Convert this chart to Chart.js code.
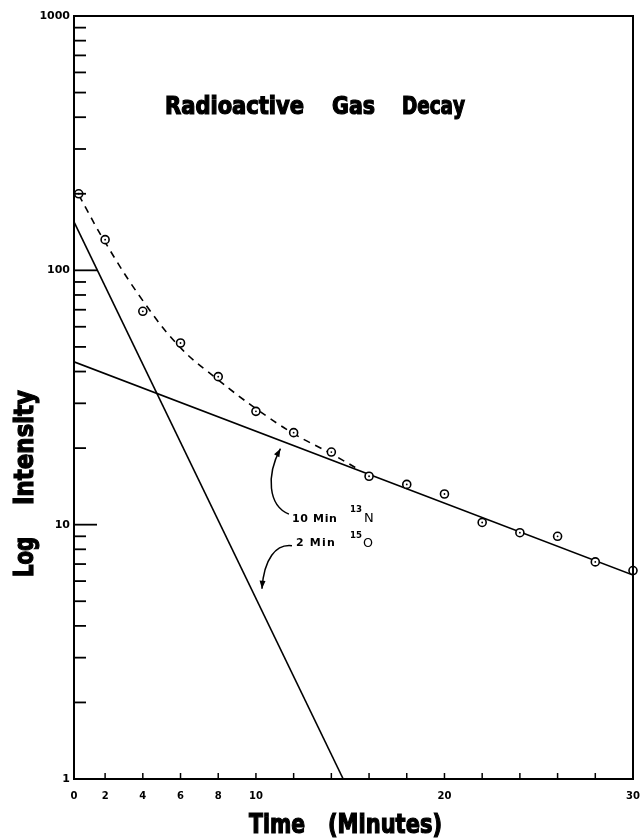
<!DOCTYPE html>
<html>
<head>
<meta charset="utf-8">
<script src="https://cdn.jsdelivr.net/npm/chart.js@4/dist/chart.umd.min.js"></script>
<style>
html,body{margin:0;padding:0;background:#fff;}
#wrap{width:641px;height:840px;position:relative;}
canvas{display:block;}
</style>
</head>
<body>
<div id="wrap"><canvas id="c" width="641" height="840"></canvas></div>
<script>
// ---------- data ----------
const measuredTimes  = [0.6, 2, 4, 6, 8, 10, 12, 14, 16, 18, 20, 22, 24, 26, 28, 30];
const measuredValues = [200, 132, 69, 51.8, 38.2, 27.9, 23.0, 19.3, 15.5, 14.4, 13.2, 10.2, 9.3, 9.0, 7.14, 6.6];

const sumCurveTimes  = [0.6, 2, 4, 6, 8, 10, 12, 14, 15.5];
const sumCurveValues = [198, 129, 76, 49.6, 37.1, 28.6, 22.8, 19.0, 16.4];

const n13Times  = [0.35, 30];
const n13Values = [43.7, 6.34];

const o15Times  = [0.35, 14.63];
const o15Values = [155, 1];

const xAxisStart  = 0.35;
const xAxisEnd    = 30;
const xTickValues = [0, 2, 4, 6, 8, 10, 12, 14, 16, 18, 20, 22, 24, 26, 28, 30];
const xTickLabels = ['0', '2', '4', '6', '8', '10', '', '', '', '', '20', '', '', '', '', '30'];
const yMajorValues = [1, 10, 100, 1000];
const yMajorLabels = ['1', '10', '100', '1000'];
const yMinorMultipliers = [2, 3, 4, 5, 6, 7, 8, 9];

const titleText = ['Radioactive', 'Gas', 'Decay'];
const xTitleText = ['Time', '(Minutes)'];
const yTitleText = ['Log', 'Intensity'];

// annotation anchors in data space
const note13N = { t: 11.91, v: 10.66, text: '10 Min', sup: '13', supT: 14.99, supV: 11.6, sym: 'N', symT: 15.73, symV: 10.66 };
const note15O = { t: 12.12, v: 8.55, text: '2 Min', sup: '15', supT: 14.99, supV: 9.1, sym: 'O', symT: 15.68, symV: 8.55 };
const arrow13N = [[11.75, 11.0], [10.64, 11.9], [10.54, 15.6], [11.3, 19.9]];
const arrow15O = [[11.91, 8.26], [11.06, 8.41], [10.43, 7.34], [10.32, 5.6]];

// ---------- helpers ----------
const toXY = (ts, vs) => ts.map((t, i) => ({ x: t, y: vs[i] }));
const HEAVY = "'Liberation Sans Narrow','DejaVu Sans Condensed','Roboto Condensed','DejaVu Sans',sans-serif";
const PLAIN = "'DejaVu Sans','Liberation Sans',sans-serif";

function drawFitted(ctx, text, x0, width, yc, size, family, weight, heavy) {
  ctx.save();
  ctx.font = `${weight} ${size}px ${family}`;
  ctx.textBaseline = 'alphabetic';
  ctx.textAlign = 'left';
  ctx.fillStyle = '#000';
  ctx.strokeStyle = '#000';
  ctx.lineWidth = heavy || 0;
  const chars = [...text];
  const widths = chars.map(c => ctx.measureText(c).width);
  const natural = widths.reduce((a, b) => a + b, 0);
  let sx = 1, gap = 0;
  if (natural > width) sx = width / natural;
  else gap = (width - natural) / Math.max(chars.length - 1, 1);
  ctx.translate(x0, yc + size * 0.36);
  ctx.scale(sx, 1);
  let x = 0;
  chars.forEach((c, i) => {
    ctx.fillText(c, x, 0);
    if (heavy) ctx.strokeText(c, x, 0);
    x += widths[i] + gap / sx;
  });
  ctx.restore();
}

function arrow(ctx, sx, sy, pts) {
  const p = pts.map(([t, v]) => [sx.getPixelForValue(t), sy.getPixelForValue(v)]);
  ctx.save();
  ctx.strokeStyle = '#000';
  ctx.fillStyle = '#000';
  ctx.lineWidth = 1.5;
  ctx.beginPath();
  ctx.moveTo(p[0][0], p[0][1]);
  ctx.bezierCurveTo(p[1][0], p[1][1], p[2][0], p[2][1], p[3][0], p[3][1]);
  ctx.stroke();
  const ang = Math.atan2(p[3][1] - p[2][1], p[3][0] - p[2][0]);
  const L = 8, W = 3;
  const tx = p[3][0], ty = p[3][1];
  ctx.beginPath();
  ctx.moveTo(tx, ty);
  ctx.lineTo(tx - L * Math.cos(ang) + W * Math.sin(ang), ty - L * Math.sin(ang) - W * Math.cos(ang));
  ctx.lineTo(tx - L * Math.cos(ang) - W * Math.sin(ang), ty - L * Math.sin(ang) + W * Math.cos(ang));
  ctx.closePath();
  ctx.fill();
  ctx.restore();
}

const decorations = {
  id: 'decorations',
  afterDraw(chart) {
    const ctx = chart.ctx;
    const a = chart.chartArea;
    const sx = chart.scales.x, sy = chart.scales.y;
    ctx.save();
    // top / right frame
    ctx.strokeStyle = '#000';
    ctx.lineWidth = 2;
    ctx.beginPath();
    ctx.moveTo(a.left, a.top);
    ctx.lineTo(a.right, a.top);
    ctx.lineTo(a.right, a.bottom);
    ctx.stroke();
    // y ticks pointing inward
    ctx.lineWidth = 1.8;
    for (let d = 0; d < yMajorValues.length - 1; d++) {
      const dec = yMajorValues[d];
      yMinorMultipliers.forEach(m => {
        const y = sy.getPixelForValue(m * dec);
        ctx.beginPath(); ctx.moveTo(a.left, y); ctx.lineTo(a.left + 12, y); ctx.stroke();
      });
      if (d > 0) {
        const y = sy.getPixelForValue(dec);
        ctx.beginPath(); ctx.moveTo(a.left, y); ctx.lineTo(a.left + 23, y); ctx.stroke();
      }
    }
    // x ticks pointing inward
    ctx.lineWidth = 1.5;
    xTickValues.forEach(v => {
      if (v <= xAxisStart || v >= xAxisEnd) return;
      const x = sx.getPixelForValue(v);
      ctx.beginPath(); ctx.moveTo(x, a.bottom); ctx.lineTo(x, a.bottom - 6); ctx.stroke();
    });
    ctx.restore();

    // chart title
    drawFitted(ctx, titleText[0], 165, 139, 105.5, 24, HEAVY, 'bold', 1.2);
    drawFitted(ctx, titleText[1], 332, 43, 105.5, 24, HEAVY, 'bold', 1.2);
    drawFitted(ctx, titleText[2], 402, 63, 105.5, 24, HEAVY, 'bold', 1.2);
    // x axis title
    drawFitted(ctx, xTitleText[0], 249, 56, 823, 27, HEAVY, 'bold', 1.2);
    drawFitted(ctx, xTitleText[1], 328, 114, 823, 27, HEAVY, 'bold', 1.2);
    // y axis title (rotated)
    ctx.save();
    ctx.translate(23, 0);
    ctx.rotate(-Math.PI / 2);
    drawFitted(ctx, yTitleText[0], -577, 40, 0, 27, HEAVY, 'bold', 1.2);
    drawFitted(ctx, yTitleText[1], -505, 115, 0, 27, HEAVY, 'bold', 1.2);
    ctx.restore();

    // annotations
    [note13N, note15O].forEach(n => {
      drawFitted(ctx, n.text, sx.getPixelForValue(n.t), n === note13N ? 45 : 39, sy.getPixelForValue(n.v), 11, PLAIN, 'bold', 0);
      drawFitted(ctx, n.sup, sx.getPixelForValue(n.supT), 12, sy.getPixelForValue(n.supV), 9, PLAIN, 'bold', 0);
      drawFitted(ctx, n.sym, sx.getPixelForValue(n.symT), 10, sy.getPixelForValue(n.symV), 13, PLAIN, 'normal', 0);
    });
    arrow(ctx, sx, sy, arrow13N);
    arrow(ctx, sx, sy, arrow15O);
  }
};

new Chart(document.getElementById('c'), {
  type: 'scatter',
  data: {
    datasets: [
      {
        label: 'Measured (dot)',
        data: toXY(measuredTimes, measuredValues),
        showLine: false,
        pointRadius: 0.9,
        pointBackgroundColor: '#000',
        pointBorderWidth: 0,
        clip: false,
        order: 0
      },
      {
        label: 'Measured',
        data: toXY(measuredTimes, measuredValues),
        showLine: false,
        pointRadius: 4,
        pointBackgroundColor: '#fff',
        pointBorderColor: '#000',
        pointBorderWidth: 1.6,
        clip: false,
        order: 1
      },
      {
        label: 'Sum',
        data: toXY(sumCurveTimes, sumCurveValues),
        showLine: true,
        borderColor: '#000',
        borderWidth: 1.6,
        borderDash: [7, 6],
        tension: 0.4,
        pointRadius: 0,
        order: 2
      },
      {
        label: '13N',
        data: toXY(n13Times, n13Values),
        showLine: true,
        borderColor: '#000',
        borderWidth: 1.6,
        pointRadius: 0,
        order: 3
      },
      {
        label: '15O',
        data: toXY(o15Times, o15Values),
        showLine: true,
        borderColor: '#000',
        borderWidth: 1.6,
        pointRadius: 0,
        order: 4
      }
    ]
  },
  options: {
    responsive: false,
    devicePixelRatio: 1,
    animation: false,
    layout: { padding: { top: 16, right: 8, left: 0, bottom: 0 } },
    plugins: { legend: { display: false }, tooltip: { enabled: false }, title: { display: false } },
    scales: {
      x: {
        type: 'linear',
        min: xAxisStart,
        max: xAxisEnd,
        grid: { display: false, drawTicks: false },
        border: { display: true, color: '#000', width: 2 },
        afterBuildTicks(scale) {
          scale.ticks = xTickValues.map(v => ({ value: Math.max(v, xAxisStart) }));
        },
        ticks: {
          autoSkip: false,
          maxRotation: 0,
          padding: 11,
          color: '#000',
          font: { family: PLAIN, size: 10, weight: 'bold' },
          callback: (value, index) => xTickLabels[index]
        },
        afterFit(scale) {
          scale.height = 61;
          scale.paddingLeft = 0; scale.paddingRight = 0;
        }
      },
      y: {
        type: 'logarithmic',
        min: 1,
        max: 1000,
        grid: { display: false, drawTicks: false },
        border: { display: true, color: '#000', width: 2 },
        afterBuildTicks(scale) {
          scale.ticks = yMajorValues.map(v => ({ value: v }));
        },
        ticks: {
          autoSkip: false,
          padding: 4,
          color: '#000',
          font: { family: PLAIN, size: 11, weight: 'bold' },
          callback: (value, index) => yMajorLabels[index]
        },
        afterFit(scale) {
          scale.width = 74;
          scale.paddingTop = 0; scale.paddingBottom = 0;
        }
      }
    }
  },
  plugins: [decorations]
});
</script>
</body>
</html>
